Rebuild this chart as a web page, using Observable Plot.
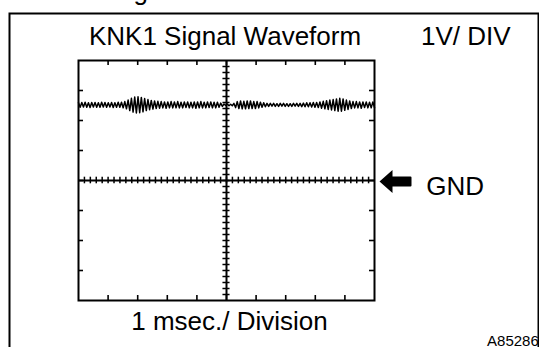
<!DOCTYPE html>
<html><head><meta charset="utf-8">
<script src="https://cdn.jsdelivr.net/npm/d3@7"></script>
<script src="https://cdn.jsdelivr.net/npm/@observablehq/plot@0.6"></script>
<style>html,body{margin:0;padding:0;background:#fff}svg{display:block}</style>
</head><body><div id="chart"></div>
<script>
// ---- text ----
const titleText = "KNK1 Signal Waveform";
const scaleText = "1V/ DIV";
const timeText = "1 msec./ Division";
const gndText = "GND";
const figureId = "A85286";
const cutText = "g";

// ---- graticule (ms on x, volts on y; 1 ms/div, 1 V/div) ----
const xDomain = [0, 10];
const yDomain = [-4, 4];
const xMajorTicks = [1, 2, 3, 4, 5, 6, 7, 8, 9];
const yMajorTicks = [-3, -2, -1, 0, 1, 2, 3];
const xMinorTicks = d3.range(0.2, 10, 0.2);
const yMinorTicks = d3.range(-3.8, 4, 0.2);

// ---- signal: DC level above GND plus ripple read at each peak / trough ----
const baselineV = 2.52;
const ripple = [
  0.07,-0.08,0.08,-0.07,0.09,-0.08,0.07,-0.09,0.08,-0.07,0.08,-0.08,0.07,-0.08,0.09,-0.07,0.08,-0.08,0.07,-0.07,0.08,-0.09,0.07,-0.08,0.09,-0.08,0.09,-0.1,0.11,
  -0.13,0.16,-0.19,0.22,-0.24,0.26,-0.27,0.27,-0.26,0.25,-0.23,0.21,-0.19,0.18,-0.16,0.15,-0.14,0.13,-0.12,0.12,
  -0.11,0.11,-0.1,0.1,-0.11,0.1,-0.1,0.11,-0.1,0.1,-0.1,0.11,
  -0.1,0.09,-0.1,0.1,-0.09,0.1,-0.1,0.09,-0.1,0.1,-0.11,0.1,-0.1,0.11,-0.1,0.09,-0.1,0.1,-0.09,0.1,-0.1,0.09,-0.1,0.09,-0.08,0.06,-0.05,
  0.03,-0.02,0.03,-0.03,0.02,-0.03,0.05,
  -0.09,0.11,-0.12,0.13,-0.13,0.12,-0.13,0.13,-0.12,0.13,-0.12,0.11,-0.12,0.11,-0.1,0.09,-0.08,0.07,
  -0.06,0.05,-0.05,0.05,-0.04,0.05,-0.05,0.04,-0.05,0.05,-0.04,0.05,-0.05,0.04,-0.05,0.04,-0.05,0.05,-0.04,0.05,-0.05,0.05,-0.06,0.06,-0.06,0.07,-0.06,0.07,-0.07,0.08,-0.08,
  0.08,-0.09,0.1,-0.11,0.12,-0.13,0.14,-0.15,0.16,-0.17,0.18,-0.19,0.2,-0.21,0.22,-0.21,0.2,-0.18,0.16,-0.15,0.13,-0.12,0.11,
  -0.1,0.11,-0.1,0.1,-0.11,0.1,-0.09,0.1,-0.1,0.09,-0.1,0.1,-0.09
];
const sampleStep = (xDomain[1] - xDomain[0]) / (ripple.length - 1);
const wave = ripple.map((r, i) => ({t: i * sampleStep, v: baselineV + r}));

const arrowSymbol = {
  draw(ctx) {
    ctx.moveTo(-16, 0);
    ctx.lineTo(-3, -11.5);
    ctx.lineTo(-3, -5);
    ctx.lineTo(15, -5);
    ctx.quadraticCurveTo(16, -5, 16, -4);
    ctx.lineTo(16, 4);
    ctx.quadraticCurveTo(16, 5, 15, 5);
    ctx.lineTo(-3, 5);
    ctx.lineTo(-3, 11.5);
    ctx.closePath();
  }
};

const font = "'Liberation Sans', Arial, Helvetica, sans-serif";
const txt = (s, x, y, anchor, size) => Plot.text([s], {
  x: () => x, y: () => y, text: d => d, textAnchor: anchor, lineAnchor: "middle",
  fontSize: size, fill: "black", fontFamily: font
});

const chart = Plot.plot({
  width: 539, height: 347,
  marginLeft: 78, marginRight: 165, marginTop: 60, marginBottom: 47,
  x: {domain: xDomain, axis: null},
  y: {domain: yDomain, axis: null},
  style: {background: "white", fontFamily: font},
  marks: [
    // outer figure border (bottom runs off the picture)
    Plot.frame({insetLeft: -69, insetTop: -47, insetRight: -164, insetBottom: -50, stroke: "black", strokeWidth: 2}),
    // graticule border
    Plot.frame({stroke: "black", strokeWidth: 2}),
    // centre cross
    Plot.ruleX([5], {stroke: "black", strokeWidth: 2}),
    Plot.ruleY([0], {stroke: "black", strokeWidth: 2}),
    // major division ticks on border (inward)
    Plot.ruleX(xMajorTicks, {insetBottom: 235, stroke: "black", strokeWidth: 1.6}),
    Plot.ruleX(xMajorTicks, {insetTop: 235, stroke: "black", strokeWidth: 1.6}),
    Plot.ruleY(yMajorTicks, {insetRight: 291, stroke: "black", strokeWidth: 1.6}),
    Plot.ruleY(yMajorTicks, {insetLeft: 291, stroke: "black", strokeWidth: 1.6}),
    // minor ticks on centre cross
    Plot.ruleX(xMinorTicks, {y1: -0.11, y2: 0.11, stroke: "black", strokeWidth: 1.5}),
    Plot.ruleY(yMinorTicks, {x1: 4.88, x2: 5.12, stroke: "black", strokeWidth: 1.5}),
    // signal
    Plot.line(wave, {x: "t", y: "v", stroke: "black", strokeWidth: 1.5, curve: "linear"}),
    // texts
    txt(titleText, 4.95, 4.78, "middle", 26),
    txt(scaleText, 14.6, 4.78, "end", 26),
    txt(gndText, 11.75, -0.19, "start", 26),
    txt(timeText, 5.1, -4.72, "middle", 26),
    txt(figureId, 15.55, -5.34, "end", 15),
    txt(cutText, 1.86, 6.29, "start", 26),
    // GND arrow
    Plot.dot([0], {x: () => 10, y: () => 0, dx: 21, dy: 1, symbol: arrowSymbol, fill: "black", stroke: "none"})
  ]
});
document.getElementById("chart").append(chart);
</script>
</body></html>
